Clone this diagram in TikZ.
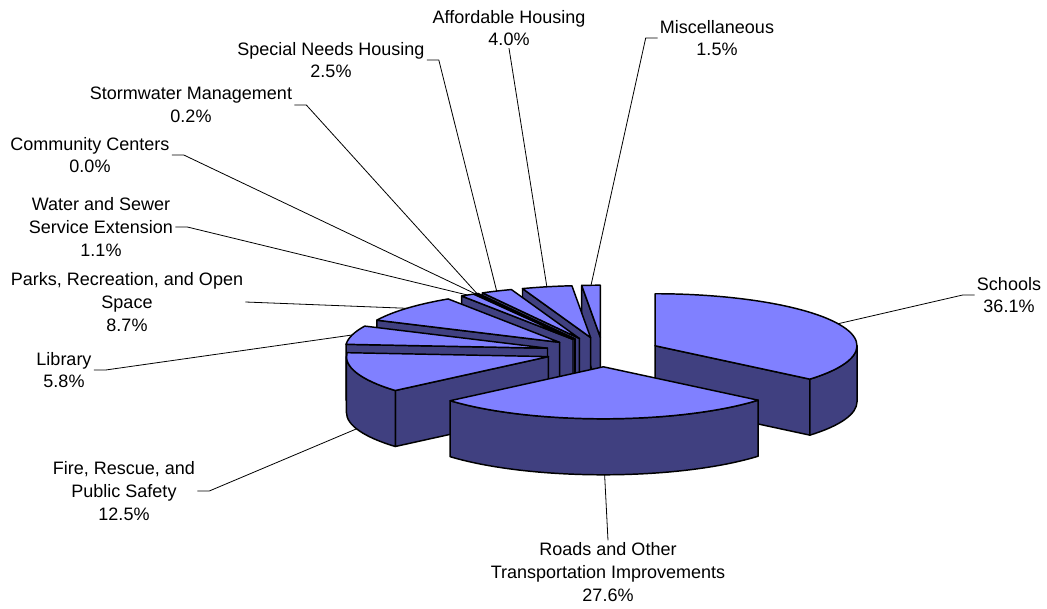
\documentclass[tikz,border=0pt]{standalone}
\usepackage{fontspec}
\setmainfont{Liberation Sans}
\usepackage{tikz}
\usetikzlibrary{positioning}

\definecolor{sliceTop}{RGB}{128,128,255}
\definecolor{sliceSide}{RGB}{64,64,128}

% one exploded slice: name, start angle, end angle
\newcommand{\pieslice}[3]{%
  \pgfmathsetmacro{\slMid}{(#2+#3)/2}
  \path (603,-352) ++(\slMid:57.4 and 14.8) coordinate (#1)
        ++(\slMid:202 and 52) coordinate (#1-rim) ++(0,-56) coordinate (#1-low);
  \path (#1) ++(0,-56) coordinate (#1-foot);
  \pgfmathtruncatemacro{\slFaceA}{cos(#2)>0.001}
  \pgfmathtruncatemacro{\slFaceB}{cos(#3)<-0.001}
  \pgfmathsetmacro{\slSideA}{max(#2,180)}
  \pgfmathsetmacro{\slSideB}{min(#3,360)}
  \pgfmathtruncatemacro{\slSide}{\slSideA<\slSideB}
  \ifnum\slFaceA=1
    \filldraw[side face] (#1-foot) -- ++(#2:202 and 52) -- ++(0,56) -- (#1) -- cycle;
  \fi
  \ifnum\slFaceB=1
    \filldraw[side face] (#1-foot) -- ++(#3:202 and 52) -- ++(0,56) -- (#1) -- cycle;
  \fi
  \ifnum\slSide=1
    \filldraw[side face] (#1) ++(\slSideA:202 and 52)
      arc[start angle=\slSideA, end angle=\slSideB, x radius=202, y radius=52]
      -- ++(0,-56)
      arc[start angle=\slSideB, end angle=\slSideA, x radius=202, y radius=52] -- cycle;
  \fi
  \filldraw[top face] (#1) -- ++(#2:202 and 52)
    arc[start angle=#2, end angle=#3, x radius=202, y radius=52] -- cycle;
}

\begin{document}
\begin{tikzpicture}[x=0.75pt,y=0.75pt,
    top face/.style={fill=sliceTop,draw=black,line width=1.1pt,line join=round},
    side face/.style={fill=sliceSide,draw=black,line width=1.1pt,line join=round},
    lbl/.style={align=center,inner sep=1.5pt,font=\fontsize{13.5}{17}\selectfont},
    leader/.style={draw=black,line width=0.6pt}]

  \useasboundingbox (0,0) rectangle (1047,-609);

  % slices, back to front
  \pieslice{misc}{90}{95.3}
  \pieslice{afford}{95.3}{109.7}
  \pieslice{special}{109.7}{118.7}
  \pieslice{storm}{118.7}{119.42}
  \pieslice{community}{119.42}{119.52}
  \pieslice{water}{119.52}{123.48}
  \pieslice{parks}{123.48}{154.8}
  \pieslice{library}{154.8}{175.68}
  \pieslice{fire}{175.68}{220.68}
  \pieslice{schools}{320.04}{450}
  \pieslice{roads}{220.68}{320.04}

  % labels
  \node[lbl] (schoolsL) at (1009,-295) {Schools\\36.1\%};
  \node[lbl] (roadsL) at (608,-572) {Roads and Other\\Transportation Improvements\\27.6\%};
  \node[lbl] (fireL) at (124,-491) {Fire, Rescue, and\\Public Safety\\12.5\%};
  \node[lbl] (libraryL) at (64,-370) {Library\\5.8\%};
  \node[lbl] (parksL) at (127,-302) {Parks, Recreation, and Open\\Space\\8.7\%};
  \node[lbl] (waterL) at (101,-227) {Water and Sewer\\Service Extension\\1.1\%};
  \node[lbl] (communityL) at (90,-155) {Community Centers\\0.0\%};
  \node[lbl] (stormL) at (191,-105) {Stormwater Management\\0.2\%};
  \node[lbl] (specialL) at (331,-60) {Special Needs Housing\\2.5\%};
  \node[lbl] (affordL) at (509,-28) {Affordable Housing\\4.0\%};
  \node[lbl] (miscL) at (717,-38) {Miscellaneous\\1.5\%};

  % leader lines
  \draw[leader] (schoolsL.west) -- ++(-12,0) -- (schools-rim);
  \draw[leader] (roadsL.north) -- (roads-low);
  \draw[leader] (fireL.east) -- ++(12,0) -- (fire-low);
  \draw[leader] (libraryL.east) -- ++(12,0) -- (library-rim);
  \draw[leader] (parksL.east) -- (parks-rim);
  \draw[leader] (waterL.east) -- ++(12,0) -- (water-rim);
  \draw[leader] (communityL.east) -- ++(12,0) -- (community-rim);
  \draw[leader] (stormL.east) -- ++(12,0) -- (storm-rim);
  \draw[leader] (specialL.east) -- ++(12,0) -- (special-rim);
  \draw[leader] (affordL.south) -- (afford-rim);
  \draw[leader] (miscL.west) -- ++(-12,0) -- (misc-rim);
\end{tikzpicture}
\end{document}
